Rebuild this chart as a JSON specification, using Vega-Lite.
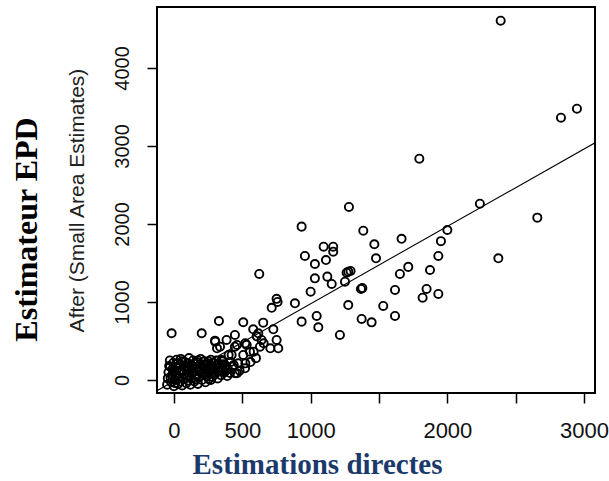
{
  "$schema": "https://vega.github.io/schema/vega-lite/v6.json",
  "width": 438,
  "height": 386,
  "autosize": {"type": "none"},
  "padding": {"left": 157, "top": 7, "right": 14, "bottom": 88},
  "background": "white",
  "config": {
    "view": {"stroke": "#000", "strokeWidth": 2},
    "axis": {"grid": false, "domain": false, "tickColor": "#000", "tickWidth": 1.5, "tickSize": 10, "labelFont": "Liberation Sans", "labelColor": "#111"}
  },
  "datasets": {
    "points": [
      {"direct": 2390, "epd": 4606}, {"direct": 2831, "epd": 3363}, {"direct": 2948, "epd": 3478}, {"direct": 1795, "epd": 2837},
      {"direct": 1280, "epd": 2218}, {"direct": 934, "epd": 1966}, {"direct": 2238, "epd": 2260}, {"direct": 2658, "epd": 2081},
      {"direct": 1385, "epd": 1914}, {"direct": 1466, "epd": 1740}, {"direct": 1665, "epd": 1810}, {"direct": 1953, "epd": 1780},
      {"direct": 2000, "epd": 1923}, {"direct": 1095, "epd": 1709}, {"direct": 1165, "epd": 1709}, {"direct": 1165, "epd": 1645},
      {"direct": 2373, "epd": 1560}, {"direct": 1934, "epd": 1590}, {"direct": 1478, "epd": 1560}, {"direct": 1873, "epd": 1410},
      {"direct": 1714, "epd": 1450}, {"direct": 1653, "epd": 1359}, {"direct": 1617, "epd": 1154}, {"direct": 1848, "epd": 1167},
      {"direct": 1819, "epd": 1055}, {"direct": 1934, "epd": 1103}, {"direct": 1531, "epd": 949}, {"direct": 1617, "epd": 821},
      {"direct": 1373, "epd": 782}, {"direct": 1446, "epd": 739}, {"direct": 1275, "epd": 961}, {"direct": 1368, "epd": 1167},
      {"direct": 1378, "epd": 1178}, {"direct": 1275, "epd": 1389}, {"direct": 1292, "epd": 1398}, {"direct": 1263, "epd": 1375},
      {"direct": 1251, "epd": 1260}, {"direct": 958, "epd": 1590}, {"direct": 1031, "epd": 1487}, {"direct": 1112, "epd": 1538},
      {"direct": 1031, "epd": 1303}, {"direct": 1122, "epd": 1325}, {"direct": 1154, "epd": 1231}, {"direct": 1000, "epd": 1132},
      {"direct": 885, "epd": 983}, {"direct": 1044, "epd": 821}, {"direct": 934, "epd": 748}, {"direct": 1056, "epd": 676},
      {"direct": 1214, "epd": 577}, {"direct": 624, "epd": 1359}, {"direct": 751, "epd": 1040}, {"direct": 758, "epd": 1000},
      {"direct": 715, "epd": 925}, {"direct": 329, "epd": 756}, {"direct": -17, "epd": 599}, {"direct": 203, "epd": 599},
      {"direct": 507, "epd": 740}, {"direct": 653, "epd": 735}, {"direct": 727, "epd": 650}, {"direct": 580, "epd": 650},
      {"direct": 605, "epd": 560}, {"direct": 446, "epd": 577}, {"direct": 629, "epd": 427}, {"direct": 751, "epd": 513},
      {"direct": 763, "epd": 406}, {"direct": 385, "epd": 513}, {"direct": 300, "epd": 504}, {"direct": 337, "epd": 427},
      {"direct": 446, "epd": 427}, {"direct": 532, "epd": 449}, {"direct": 556, "epd": 363}, {"direct": 507, "epd": 321},
      {"direct": 422, "epd": 321}, {"direct": 470, "epd": 214}, {"direct": 446, "epd": 86}, {"direct": 385, "epd": 171},
      {"direct": 349, "epd": 256}, {"direct": 302, "epd": 491}, {"direct": 315, "epd": 406}, {"direct": 400, "epd": 320},
      {"direct": 461, "epd": 449}, {"direct": 522, "epd": 470}, {"direct": 617, "epd": 599}, {"direct": 656, "epd": 470},
      {"direct": 705, "epd": 406}, {"direct": 583, "epd": 363}, {"direct": 437, "epd": 192}, {"direct": 522, "epd": 213},
      {"direct": 461, "epd": 86}, {"direct": 641, "epd": 513},
      {"direct": -50, "epd": -60}, {"direct": -45, "epd": 20}, {"direct": -40, "epd": 100}, {"direct": -35, "epd": 180},
      {"direct": -30, "epd": 250}, {"direct": -20, "epd": -30}, {"direct": -15, "epd": 60}, {"direct": -10, "epd": 140},
      {"direct": -5, "epd": 220}, {"direct": 0, "epd": -80}, {"direct": 5, "epd": 0}, {"direct": 10, "epd": 90},
      {"direct": 15, "epd": 170}, {"direct": 20, "epd": 260}, {"direct": 30, "epd": -50}, {"direct": 35, "epd": 40},
      {"direct": 40, "epd": 120}, {"direct": 45, "epd": 200}, {"direct": 50, "epd": 270}, {"direct": 60, "epd": -70},
      {"direct": 65, "epd": 10}, {"direct": 70, "epd": 80}, {"direct": 75, "epd": 160}, {"direct": 80, "epd": 230},
      {"direct": 90, "epd": -40}, {"direct": 95, "epd": 50}, {"direct": 100, "epd": 130}, {"direct": 105, "epd": 210},
      {"direct": 110, "epd": 280}, {"direct": 120, "epd": -60}, {"direct": 125, "epd": 20}, {"direct": 130, "epd": 100},
      {"direct": 135, "epd": 180}, {"direct": 140, "epd": 250}, {"direct": 150, "epd": -20}, {"direct": 155, "epd": 60},
      {"direct": 160, "epd": 150}, {"direct": 165, "epd": 230}, {"direct": 175, "epd": -50}, {"direct": 180, "epd": 30},
      {"direct": 185, "epd": 110}, {"direct": 190, "epd": 200}, {"direct": 195, "epd": 270}, {"direct": 205, "epd": 0},
      {"direct": 210, "epd": 80}, {"direct": 215, "epd": 160}, {"direct": 220, "epd": 240}, {"direct": 230, "epd": -30},
      {"direct": 235, "epd": 50}, {"direct": 240, "epd": 130}, {"direct": 245, "epd": 210}, {"direct": 255, "epd": 10},
      {"direct": 260, "epd": 100}, {"direct": 265, "epd": 180}, {"direct": 270, "epd": 260}, {"direct": 280, "epd": 40},
      {"direct": 285, "epd": 130}, {"direct": 290, "epd": 220}, {"direct": 300, "epd": 70}, {"direct": 305, "epd": 160},
      {"direct": 310, "epd": 250}, {"direct": 320, "epd": 20}, {"direct": 325, "epd": 110}, {"direct": 330, "epd": 200},
      {"direct": 345, "epd": 60}, {"direct": 350, "epd": 150}, {"direct": 355, "epd": 240}, {"direct": 370, "epd": 100},
      {"direct": 375, "epd": 190}, {"direct": 390, "epd": 50}, {"direct": 395, "epd": 140}, {"direct": 410, "epd": 90},
      {"direct": 415, "epd": 230}, {"direct": 430, "epd": 170}, {"direct": 520, "epd": 150}, {"direct": 560, "epd": 230},
      {"direct": 600, "epd": 280}, {"direct": 480, "epd": 120},
      {"direct": -25, "epd": 30}, {"direct": -28, "epd": 170}, {"direct": 0, "epd": 120}, {"direct": 25, "epd": 210},
      {"direct": 22, "epd": 60}, {"direct": 55, "epd": 110}, {"direct": 58, "epd": 240}, {"direct": 85, "epd": 180},
      {"direct": 112, "epd": 60}, {"direct": 115, "epd": 160}, {"direct": 145, "epd": 110}, {"direct": 148, "epd": 210},
      {"direct": 170, "epd": 60}, {"direct": 175, "epd": 250}, {"direct": 200, "epd": 130}, {"direct": 225, "epd": 190},
      {"direct": 228, "epd": 100}, {"direct": 250, "epd": 60}, {"direct": 252, "epd": 240}, {"direct": 275, "epd": 150},
      {"direct": 295, "epd": 100}, {"direct": 315, "epd": 190}, {"direct": 338, "epd": 120}, {"direct": 360, "epd": 200},
      {"direct": 380, "epd": 130}, {"direct": 8, "epd": -40}, {"direct": 45, "epd": -20}, {"direct": 105, "epd": -10},
      {"direct": 160, "epd": 10}, {"direct": 270, "epd": 0}
    ],
    "fit": [
      {"direct": -124, "epd": -137},
      {"direct": 3080, "epd": 3041}
    ]
  },
  "layer": [
    {
      "data": {"name": "points"},
      "mark": {"type": "point", "shape": "circle", "filled": false, "stroke": "#000", "strokeWidth": 1.9, "size": 66, "opacity": 1},
      "encoding": {
        "x": {
          "field": "direct", "type": "quantitative",
          "scale": {"domain": [-124, 3080], "nice": false, "zero": false},
          "axis": {
            "title": "Estimations directes",
            "values": [0, 500, 1000, 1500, 2000, 2500, 3000],
            "format": "d",
            "labelExpr": "datum.value == 1500 || datum.value == 2500 ? '' : datum.label",
            "labelFontSize": 22, "labelPadding": 34, "labelBaseline": "alphabetic", "labelAlign": "center",
            "labelFlush": false, "labelOverlap": false,
            "titleFont": "Liberation Serif", "titleFontWeight": "bold", "titleFontSize": 29, "titleColor": "#1B3A6B",
            "titleX": 160, "titleY": 80, "titleBaseline": "alphabetic", "titleAlign": "center"
          }
        },
        "y": {
          "field": "epd", "type": "quantitative",
          "scale": {"domain": [-167, 4782], "nice": false, "zero": false},
          "axis": {
            "orient": "left",
            "title": "After (Small Area Estimates)",
            "values": [0, 1000, 2000, 3000, 4000],
            "format": "d",
            "labelAngle": -90, "labelAlign": "center", "labelBaseline": "alphabetic", "labelPadding": 19, "labelFontSize": 20,
            "labelFlush": false, "labelOverlap": false,
            "titleFont": "Liberation Sans", "titleFontWeight": "normal", "titleFontSize": 21, "titleColor": "#222",
            "titleX": -74, "titleY": 193, "titleAngle": -90, "titleAlign": "center", "titleBaseline": "alphabetic"
          }
        }
      }
    },
    {
      "data": {"name": "fit"},
      "mark": {"type": "line", "stroke": "#000", "strokeWidth": 1.1, "clip": true},
      "encoding": {
        "x": {"field": "direct", "type": "quantitative"},
        "y": {
          "field": "epd", "type": "quantitative",
          "axis": {
            "orient": "left", "title": "Estimateur EPD", "labels": false, "ticks": false, "domain": false, "grid": false,
            "titleFont": "Liberation Serif", "titleFontWeight": "bold", "titleFontSize": 32, "titleColor": "#000",
            "titleX": -121, "titleY": 222, "titleAngle": -90, "titleAlign": "center", "titleBaseline": "alphabetic"
          }
        }
      }
    }
  ],
  "resolve": {"axis": {"y": "independent"}}
}
